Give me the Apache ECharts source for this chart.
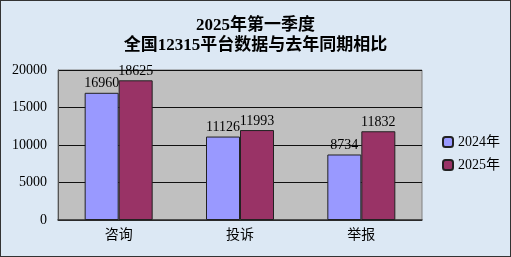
<!DOCTYPE html>
<html><head><meta charset="utf-8">
<script src="https://cdn.jsdelivr.net/npm/echarts@6/dist/echarts.min.js"></script>
<style>
html,body{margin:0;padding:0;}
#c{width:509px;height:255px;border:1px solid #333;background:#dce8f4;}
</style></head><body>
<div id="c"></div>
<script>
const categories = ['咨询', '投诉', '举报'];
const s2024 = [16960, 11126, 8734];
const s2025 = [18625, 11993, 11832];
const seriesNames = ['2024年', '2025年'];
const titleLines = ['2025年第一季度', '全国12315平台数据与去年同期相比'];

const FONT = "'Liberation Serif', 'Noto Sans CJK SC', serif";
const chart = echarts.init(document.getElementById('c'));
chart.setOption({
  animation: false,
  title: {
    text: titleLines.join('\n'),
    left: 'center', top: 10,
    textStyle: { fontFamily: FONT, fontSize: 17, fontWeight: 'bold', color: '#000', lineHeight: 20 }
  },
  legend: {
    orient: 'vertical', left: 436, top: 129, itemGap: 9,
    itemWidth: 10, itemHeight: 10,
    textStyle: { fontFamily: FONT, fontSize: 14, color: '#000' },
    data: seriesNames
  },
  grid: { left: 57, top: 69, width: 364, height: 150, backgroundColor: '#c0c0c0', show: true, borderColor: '#808080', borderWidth: 1 },
  xAxis: {
    type: 'category', data: categories,
    axisLine: { lineStyle: { color: '#333', width: 1.5 } },
    axisTick: { show: false },
    axisLabel: { fontFamily: FONT, fontSize: 14, color: '#000', margin: 8 }
  },
  yAxis: {
    type: 'value', min: 0, max: 20000, interval: 5000,
    axisLine: { show: true, lineStyle: { color: '#555' } },
    axisTick: { show: false },
    axisLabel: { fontFamily: FONT, fontSize: 14, color: '#000', margin: 11, formatter: v => String(v) },
    splitLine: { lineStyle: { color: '#111', width: 1.2 } }
  },
  series: [
    { name: seriesNames[0], type: 'bar', data: s2024, barWidth: 34, barGap: '0%',
      itemStyle: { color: '#9999ff', borderColor: '#222', borderWidth: 1 },
      label: { show: true, position: 'top', fontFamily: FONT, fontSize: 14, color: '#000', distance: 2 } },
    { name: seriesNames[1], type: 'bar', data: s2025, barWidth: 34,
      itemStyle: { color: '#993366', borderColor: '#222', borderWidth: 1 },
      label: { show: true, position: 'top', fontFamily: FONT, fontSize: 14, color: '#000', distance: 2 } }
  ]
});
</script>
</body></html>
